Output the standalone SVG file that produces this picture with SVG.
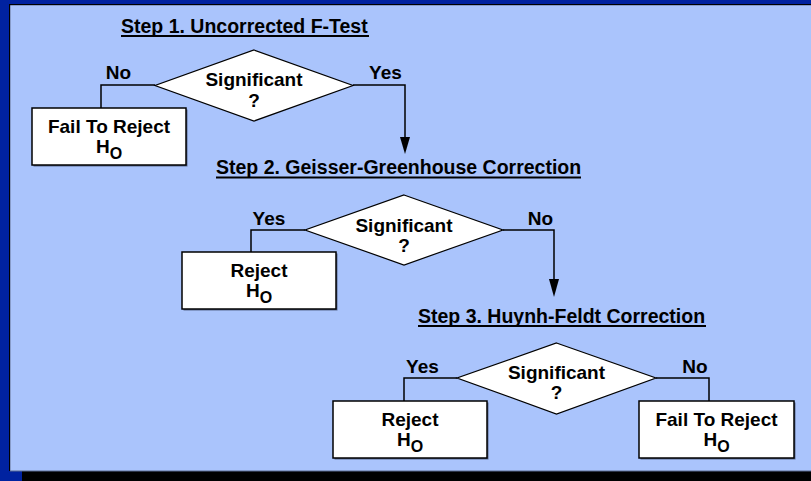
<svg xmlns="http://www.w3.org/2000/svg" width="811" height="481" viewBox="0 0 811 481">
  <style>
    text { font-family: "Liberation Sans", Arial, sans-serif; font-weight: bold; fill: #000; }
    .title { font-size: 19.5px; text-anchor: start; }
    .lbl { font-size: 19px; text-anchor: middle; }
    .sub { font-size: 16px; }
    .box { fill: #fff; stroke: #000; stroke-width: 1.5; }
    .shadow { fill: #5a6a90; }
    .dia { fill: #fff; stroke: #000; stroke-width: 1.2; }
    .wire { fill: none; stroke: #000; stroke-width: 1.5; }
    .head { fill: #000; }
    .uline { fill: #000; }
  </style>

  <!-- frame and page -->
  <rect x="0" y="0" width="811" height="481" fill="#0022a0"/>
  <rect x="22" y="471" width="789" height="10" fill="#000"/>
  <rect x="10" y="5" width="801" height="466" fill="#aac4fc"/>
  <rect x="9" y="4" width="802" height="1.2" fill="#000"/>
  <rect x="9" y="4" width="1.2" height="467" fill="#000"/>
  <rect x="10" y="470.5" width="801" height="1" fill="#5a6a90"/>

  <!-- section headings -->
  <g id="step1-title">
    <text class="title" x="121" y="33">Step 1. Uncorrected F-Test</text>
    <rect class="uline" x="121" y="35" width="248" height="2"/>
  </g>
  <g id="step2-title">
    <text class="title" x="216" y="174">Step 2. Geisser-Greenhouse Correction</text>
    <rect class="uline" x="216" y="176.5" width="365" height="2"/>
  </g>
  <g id="step3-title">
    <text class="title" x="418" y="323">Step 3. Huynh-Feldt Correction</text>
    <rect class="uline" x="418" y="325" width="288" height="2"/>
  </g>

  <!-- connectors -->
  <g id="connectors">
    <path class="wire" d="M155,85 H101 V108"/>
    <path class="wire" d="M353,85 H405 V138"/>
    <polygon class="head" points="400,137 410,137 405,154"/>
    <path class="wire" d="M305,230 H251 V252"/>
    <path class="wire" d="M503,230 H554 V280"/>
    <polygon class="head" points="549,279 559,279 554,297"/>
    <path class="wire" d="M457,378 H404 V401"/>
    <path class="wire" d="M656,378 H709 V401"/>
    <text class="lbl" x="118.5" y="79">No</text>
    <text class="lbl" x="385.5" y="79">Yes</text>
    <text class="lbl" x="269" y="225">Yes</text>
    <text class="lbl" x="540.5" y="225">No</text>
    <text class="lbl" x="422.5" y="373">Yes</text>
    <text class="lbl" x="695" y="373">No</text>
  </g>

  <!-- step 1 -->
  <g id="decision1">
    <polygon class="dia" points="254,50 353,85.5 254,121 155,85.5"/>
    <text class="lbl" x="254" y="86">Significant</text>
    <text class="lbl" x="254" y="107">?</text>
  </g>
  <g id="fail1">
    <rect class="shadow" x="33.5" y="109.5" width="154" height="57"/>
    <rect class="box" x="32" y="108" width="154" height="57"/>
    <text class="lbl" x="109" y="133">Fail To Reject</text>
    <text class="lbl" x="109" y="153">H<tspan class="sub" dy="6">O</tspan></text>
  </g>

  <!-- step 2 -->
  <g id="decision2">
    <polygon class="dia" points="404,195 503,230 404,265 305,230"/>
    <text class="lbl" x="404" y="231.5">Significant</text>
    <text class="lbl" x="404" y="251.5">?</text>
  </g>
  <g id="reject2">
    <rect class="shadow" x="183.5" y="253.5" width="154" height="57"/>
    <rect class="box" x="182" y="252" width="154" height="57"/>
    <text class="lbl" x="259" y="277">Reject</text>
    <text class="lbl" x="259" y="297">H<tspan class="sub" dy="6">O</tspan></text>
  </g>

  <!-- step 3 -->
  <g id="decision3">
    <polygon class="dia" points="556.5,343 656,378 556.5,414 457,378"/>
    <text class="lbl" x="556.5" y="379">Significant</text>
    <text class="lbl" x="556.5" y="399">?</text>
  </g>
  <g id="reject3">
    <rect class="shadow" x="334.5" y="402.5" width="154" height="57"/>
    <rect class="box" x="333" y="401" width="154" height="57"/>
    <text class="lbl" x="410" y="426">Reject</text>
    <text class="lbl" x="410" y="446">H<tspan class="sub" dy="6">O</tspan></text>
  </g>
  <g id="fail3">
    <rect class="shadow" x="640.5" y="402.5" width="155" height="57"/>
    <rect class="box" x="639" y="401" width="155" height="57"/>
    <text class="lbl" x="716.5" y="426">Fail To Reject</text>
    <text class="lbl" x="716.5" y="446">H<tspan class="sub" dy="6">O</tspan></text>
  </g>
</svg>
